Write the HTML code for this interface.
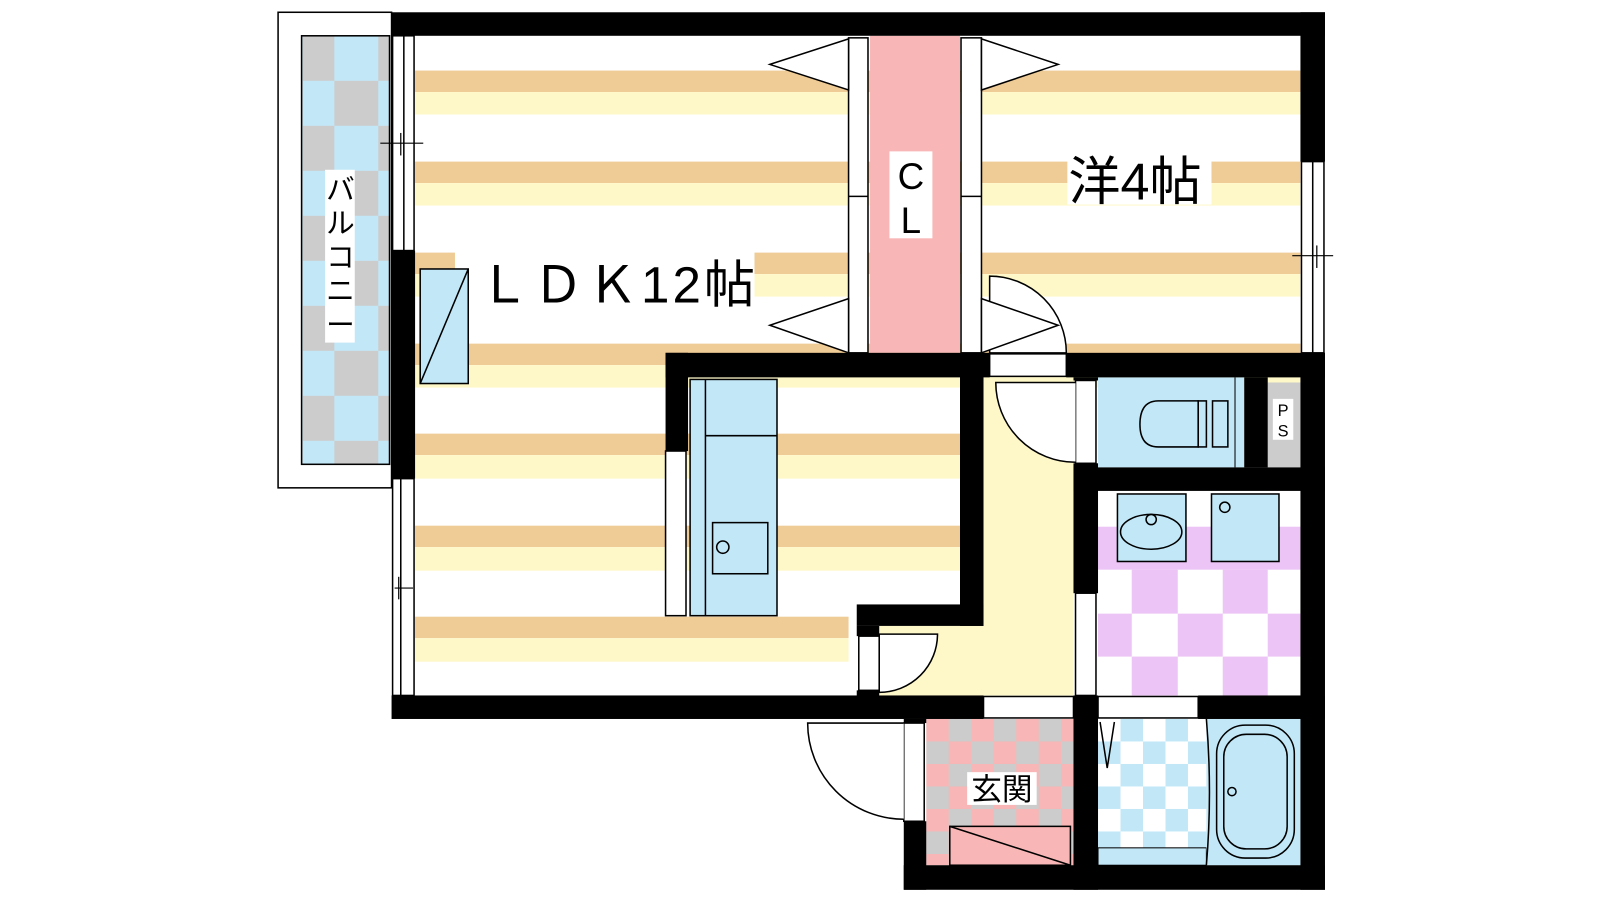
<!DOCTYPE html>
<html><head><meta charset="utf-8"><style>html,body{margin:0;padding:0;background:#fff}svg{display:block}</style></head>
<body>
<svg width="1600" height="900" viewBox="0 0 1565 880" preserveAspectRatio="none" xmlns="http://www.w3.org/2000/svg" font-family="'Liberation Sans','Noto Sans CJK JP',sans-serif">
<defs>
<pattern id="bal" x="296" y="35" width="74" height="88" patternUnits="userSpaceOnUse">
<rect width="74" height="88" fill="#c2e8f8"/><rect x="0" y="0" width="31" height="44" fill="#cccccc"/><rect x="31" y="44" width="43" height="44" fill="#cccccc"/>
</pattern>
<pattern id="gen" x="906" y="703" width="44" height="44" patternUnits="userSpaceOnUse">
<rect width="44" height="44" fill="#f8b6b6"/><rect x="22" y="0" width="22" height="22" fill="#cccccc"/><rect x="0" y="22" width="22" height="22" fill="#cccccc"/>
</pattern>
<pattern id="shw" x="1074" y="703" width="44" height="44" patternUnits="userSpaceOnUse">
<rect width="44" height="44" fill="#fff"/><rect x="22" y="0" width="22" height="22" fill="#c2e8f8"/><rect x="0" y="22" width="22" height="22" fill="#c2e8f8"/>
</pattern>
</defs>
<rect width="1565" height="880" fill="#fff"/>
<rect x="272" y="12" width="111" height="465" fill="#fff" stroke="#000" stroke-width="1.5"/>
<rect x="295" y="35" width="86" height="419" fill="url(#bal)" stroke="#000" stroke-width="1.5"/>
<rect x="318" y="166" width="29" height="169" fill="#fff"/>
<text font-size="28" fill="#000" text-anchor="middle"><tspan x="333" y="195">バ</tspan><tspan x="333" y="228">ル</tspan><tspan x="333" y="261">コ</tspan><tspan x="333" y="294">ニ</tspan><tspan x="333" y="327">ー</tspan></text>
<g>
<rect x="406" y="69" width="866" height="21" fill="#efcb95"/><rect x="406" y="90" width="866" height="22" fill="#fef8c9"/>
<rect x="406" y="158" width="866" height="21" fill="#efcb95"/><rect x="406" y="179" width="866" height="22" fill="#fef8c9"/>
<rect x="406" y="247" width="866" height="21" fill="#efcb95"/><rect x="406" y="268" width="866" height="22" fill="#fef8c9"/>
<rect x="406" y="336" width="866" height="21" fill="#efcb95"/><rect x="406" y="357" width="866" height="22" fill="#fef8c9"/>
<rect x="406" y="424" width="533" height="21" fill="#efcb95"/><rect x="406" y="445" width="533" height="23" fill="#fef8c9"/>
<rect x="406" y="514" width="533" height="21" fill="#efcb95"/><rect x="406" y="535" width="533" height="23" fill="#fef8c9"/>
<rect x="406" y="603" width="424" height="21" fill="#efcb95"/><rect x="406" y="624" width="424" height="23" fill="#fef8c9"/>
</g>
<polygon points="962,369 1050,369 1050,680 860,680 860,612 962,612" fill="#fef8c9"/>
<rect x="851" y="35" width="88" height="310" fill="#f8b6b6"/>
<rect x="870" y="148" width="42" height="85" fill="#fff"/>
<text x="891" y="185" font-size="36" text-anchor="middle">C</text>
<text x="891" y="228" font-size="36" text-anchor="middle">L</text>
<g fill="#fff" stroke="#000" stroke-width="1.5">
<rect x="830" y="37" width="19" height="308"/><line x1="830" y1="192" x2="849" y2="192"/>
<rect x="940" y="37" width="20" height="308"/><line x1="940" y1="192" x2="960" y2="192"/>
<polygon points="830,38 753,63 830,88"/><polygon points="830,292 753,318 830,345"/>
<polygon points="960,38 1035,63 960,88"/>
<path d="M968,345 L968,270 A75,75 0 0 1 1043,345 Z"/>
<polygon points="960,292 1035,318 960,345"/>
<rect x="968" y="346" width="75" height="22"/>
</g>
<rect x="445" y="246" width="293" height="57" fill="#fff"/>
<text x="468" y="296" font-size="50" letter-spacing="3">ＬＤＫ12帖</text>
<rect x="1044" y="148" width="141" height="52" fill="#fff"/>
<text x="1045" y="195" font-size="51">洋4帖</text>
<rect x="411" y="263" width="47" height="112" fill="#c2e8f8" stroke="#000" stroke-width="1.5"/>
<line x1="411" y1="375" x2="458" y2="263" stroke="#000" stroke-width="1.5"/>
<rect x="651" y="441" width="20" height="161" fill="#fff" stroke="#000" stroke-width="1.5"/>
<rect x="675" y="371" width="85" height="231" fill="#c2e8f8" stroke="#000" stroke-width="1.5"/>
<line x1="690" y1="371" x2="690" y2="602" stroke="#000" stroke-width="1.5"/>
<line x1="690" y1="426" x2="760" y2="426" stroke="#000" stroke-width="1.5"/>
<rect x="697" y="511" width="54" height="50" fill="none" stroke="#000" stroke-width="1.5"/>
<circle cx="707" cy="535" r="6" fill="none" stroke="#000" stroke-width="1.5"/>
<rect x="1074" y="369" width="143" height="88" fill="#c2e8f8"/>
<line x1="1208" y1="369" x2="1208" y2="457" stroke="#000" stroke-width="1"/>
<path d="M1172,392 L1133,392 Q1115,392 1115,415 Q1115,437 1133,437 L1172,437 Z" fill="#c2e8f8" stroke="#000" stroke-width="1.5"/>
<rect x="1172" y="392" width="8" height="45" fill="none" stroke="#000" stroke-width="1.5"/>
<rect x="1186" y="392" width="15" height="45" fill="none" stroke="#000" stroke-width="1.5"/>
<rect x="1240" y="374" width="32" height="83" fill="#cccccc"/>
<rect x="1245" y="390" width="20" height="40" fill="#fff"/>
<text x="1255" y="407" font-size="16" text-anchor="middle">P</text>
<text x="1255" y="427" font-size="16" text-anchor="middle">S</text>
<rect x="1074" y="480" width="198" height="200" fill="#fff"/>
<rect x="1074" y="515" width="198" height="42" fill="#ecc4f5"/>
<g fill="#ecc4f5">
<rect x="1107" y="557" width="45" height="43"/><rect x="1196" y="557" width="44" height="43"/>
<rect x="1074" y="600" width="33" height="42"/><rect x="1152" y="600" width="44" height="42"/><rect x="1240" y="600" width="32" height="42"/>
<rect x="1107" y="642" width="45" height="38"/><rect x="1196" y="642" width="44" height="38"/>
</g>
<rect x="1093" y="483" width="67" height="66" fill="#c2e8f8" stroke="#000" stroke-width="1.5"/>
<ellipse cx="1126" cy="520" rx="30" ry="17" fill="none" stroke="#000" stroke-width="1.5"/>
<circle cx="1126" cy="508" r="5" fill="#c2e8f8" stroke="#000" stroke-width="1.5"/>
<rect x="1185" y="483" width="66" height="66" fill="#c2e8f8" stroke="#000" stroke-width="1.5"/>
<circle cx="1198" cy="496" r="5" fill="none" stroke="#000" stroke-width="1.5"/>
<rect x="1074" y="703" width="106" height="126" fill="url(#shw)"/>
<rect x="1074" y="829" width="106" height="17" fill="#c2e8f8" stroke="#000" stroke-width="1"/>
<polyline points="1076,706 1083,751 1090,706" fill="none" stroke="#000" stroke-width="1.5"/>
<rect x="1180" y="703" width="92" height="143" fill="#c2e8f8"/>
<path d="M1180,703 Q1186,775 1180,846" fill="none" stroke="#000" stroke-width="1.5"/>
<rect x="1190" y="709" width="76" height="130" rx="28" fill="none" stroke="#000" stroke-width="1.5"/>
<rect x="1197" y="718" width="62" height="112" rx="22" fill="none" stroke="#000" stroke-width="1.5"/>
<circle cx="1205" cy="774" r="4" fill="none" stroke="#000" stroke-width="1.5"/>
<rect x="906" y="703" width="144" height="143" fill="url(#gen)"/>
<rect x="929" y="808" width="118" height="38" fill="#f8b6b6" stroke="#000" stroke-width="1.5"/>
<line x1="929" y1="808" x2="1047" y2="846" stroke="#000" stroke-width="1.5"/>
<rect x="946" y="755" width="68" height="32" fill="#fff"/>
<text x="980" y="782" font-size="30" text-anchor="middle">玄関</text>
<g fill="#000">
<rect x="383" y="12" width="913" height="23"/>
<rect x="1272" y="12" width="24" height="146"/>
<rect x="1272" y="345" width="24" height="525"/>
<rect x="383" y="245" width="23" height="223"/>
<rect x="383" y="680" width="579" height="23"/>
<rect x="1050" y="680" width="24" height="190"/>
<rect x="1172" y="680" width="124" height="23"/>
<rect x="651" y="345" width="317" height="24"/>
<rect x="1043" y="345" width="253" height="24"/>
<rect x="651" y="345" width="22" height="96"/>
<rect x="939" y="345" width="23" height="267"/>
<rect x="838" y="591" width="124" height="21"/>
<rect x="838" y="612" width="22" height="10"/>
<rect x="838" y="675" width="22" height="8"/>
<rect x="1050" y="369" width="24" height="3"/>
<rect x="1050" y="453" width="24" height="127"/>
<rect x="1050" y="457" width="246" height="23"/>
<rect x="1217" y="369" width="23" height="88"/>
<rect x="884" y="803" width="22" height="67"/>
<rect x="884" y="846" width="412" height="24"/>
<rect x="884" y="703" width="22" height="4"/>
</g>
<g fill="#fff" stroke="#000" stroke-width="1.5">
<rect x="384" y="35" width="21" height="210"/><line x1="395" y1="35" x2="395" y2="245"/>
<rect x="384" y="468" width="21" height="212"/><line x1="392" y1="468" x2="392" y2="680"/>
<rect x="1273" y="158" width="22" height="187"/><line x1="1284" y1="158" x2="1284" y2="345"/>
<rect x="962" y="681" width="88" height="21"/>
<rect x="1074" y="681" width="98" height="21"/>
<rect x="1052" y="372" width="20" height="81"/>
<path d="M1052,374 L974,374 A78,78 0 0 0 1052,452" fill="#fff"/>
<rect x="1052" y="580" width="20" height="100"/>
<rect x="840" y="622" width="20" height="53"/>
<path d="M860,620 L917,620 A57,57 0 0 1 860,677 Z"/>
<rect x="884" y="707" width="20" height="96"/>
<path d="M884,707 L790,707 A94,94 0 0 0 884,801"/>
</g>
<g stroke="#000" stroke-width="1.2">
<line x1="372" y1="140" x2="414" y2="140"/><line x1="392" y1="130" x2="392" y2="152"/>
<line x1="386" y1="575" x2="404" y2="575"/><line x1="390" y1="564" x2="390" y2="586"/>
<line x1="1264" y1="250" x2="1304" y2="250"/><line x1="1288" y1="240" x2="1288" y2="262"/>
</g>
</svg>
</body></html>
